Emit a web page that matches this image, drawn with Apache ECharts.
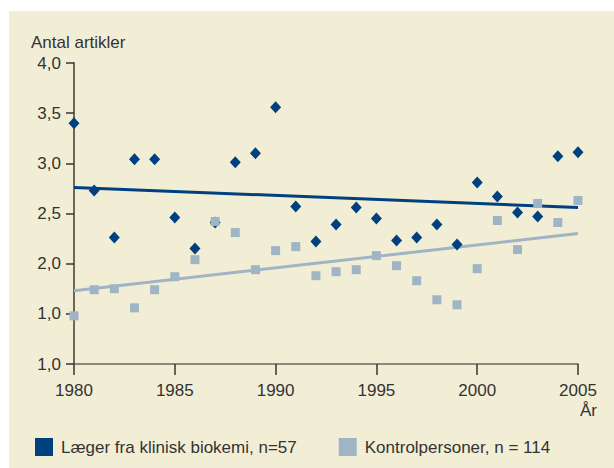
<!DOCTYPE html>
<html>
<head>
<meta charset="utf-8">
<script src="https://cdn.jsdelivr.net/npm/echarts@6/dist/echarts.min.js"></script>
<style>
html,body{margin:0;padding:0;background:#ffffff;}
#chart{width:614px;height:468px;}
</style>
</head>
<body>
<div id="chart"></div>
<script>
// Data
var years = [1980,1981,1982,1983,1984,1985,1986,1987,1988,1989,1990,1991,1992,1993,1994,1995,1996,1997,1998,1999,2000,2001,2002,2003,2004,2005];
var laeger = [3.40,2.73,2.26,3.04,3.04,2.46,2.15,2.41,3.01,3.10,3.56,2.57,2.22,2.39,2.56,2.45,2.23,2.26,2.39,2.19,2.81,2.67,2.51,2.47,3.07,3.11];
var kontrol = [1.48,1.74,1.75,1.56,1.74,1.87,2.04,2.42,2.31,1.94,2.13,2.17,1.88,1.92,1.94,2.08,1.98,1.83,1.64,1.59,1.95,2.43,2.14,2.60,2.41,2.63];
var trendYears = [1980, 2005];
var laegerTrend = [2.76, 2.56];
var kontrolTrend = [1.73, 2.30];
var yTickLabels = ["1,0","1,0","2,0","2,5","3,0","3,5","4,0"];
var xTickLabels = ["1980","1985","1990","1995","2000","2005"];
var seriesNames = ["Læger fra klinisk biokemi, n=57", "Kontrolpersoner, n = 114"];
var yAxisTitle = "Antal artikler";
var xAxisTitle = "År";

function pairs(xs, ys){ return xs.map(function(x,i){ return [x, ys[i]]; }); }

var FONT = "Liberation Sans";
var TXT = "#333333";
var DARK = "#00407f";
var LIGHT = "#9fb4c4";
var AXIS = "#6e675c";

var chart = echarts.init(document.getElementById('chart'), null, {renderer:'svg'});
chart.setOption({
  backgroundColor: '#ffffff',
  animation: false,
  textStyle: {fontFamily: FONT},
  graphic: [
    {type:'rect', z:-10, silent:true, shape:{x:9, y:11, width:605, height:457}, style:{fill:'#f2eed6'}},
    {type:'text', left:31, top:34, style:{text: yAxisTitle, font:'17px "Liberation Sans"', fill: TXT}},
    {type:'text', right:17, top:402, style:{text: xAxisTitle, font:'17px "Liberation Sans"', fill: TXT}}
  ],
  grid: {left:74, right:36, top:63, bottom:104},
  legend: {
    left: 30, top: 433,
    itemWidth: 18, itemHeight: 18, itemGap: 42,
    icon: 'rect',
    data: seriesNames,
    itemStyle: {opacity: 1},
    textStyle: {fontFamily: FONT, fontSize: 17, color: TXT, padding:[0,0,0,3]}
  },
  xAxis: {
    type: 'value', min: 1980, max: 2005, interval: 5,
    axisLine: {show:true, lineStyle:{color: AXIS, width: 1.5}},
    axisTick: {show:true, length: 11, inside:false, lineStyle:{color: '#333', width:1.5}},
    splitLine: {show:false},
    axisLabel: {
      color: TXT, fontSize: 17, fontFamily: FONT, margin: 18,
      formatter: function(v){ var i = Math.round((v-1980)/5); return xTickLabels[i]; }
    }
  },
  yAxis: {
    type: 'value', min: 1.0, max: 4.0, interval: 0.5,
    axisLine: {show:true, onZero:false, lineStyle:{color: AXIS, width: 2}},
    axisTick: {show:true, length: 8, lineStyle:{color:'#333', width:1.5}},
    splitLine: {show:false},
    axisLabel: {
      color: TXT, fontSize: 17, fontFamily: FONT, margin: 13,
      formatter: function(v){ var i = Math.round((v-1.0)/0.5); return yTickLabels[i]; }
    }
  },
  series: [
    {
      name: seriesNames[0] + ' trend', type: 'line', data: pairs(trendYears, laegerTrend),
      symbol: 'none', lineStyle: {color: DARK, width: 3}, z: 2, silent:true
    },
    {
      name: seriesNames[1] + ' trend', type: 'line', data: pairs(trendYears, kontrolTrend),
      symbol: 'none', lineStyle: {color: LIGHT, width: 3}, z: 2, silent:true
    },
    {
      name: seriesNames[0], type: 'scatter', data: pairs(years, laeger),
      symbol: 'diamond', symbolSize: [11, 12], itemStyle: {color: DARK, opacity: 1}, z: 3
    },
    {
      name: seriesNames[1], type: 'scatter', data: pairs(years, kontrol),
      symbol: 'rect', symbolSize: 9, itemStyle: {color: LIGHT, opacity: 1}, z: 4
    }
  ]
});
</script>
</body>
</html>
